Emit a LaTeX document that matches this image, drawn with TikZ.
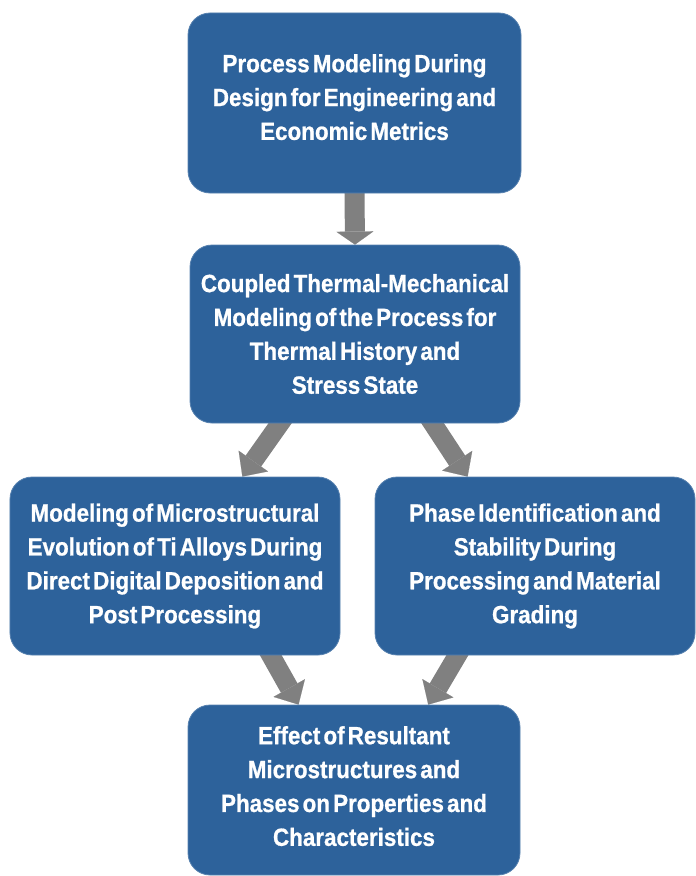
\documentclass[tikz,border=0pt]{standalone}
\usepackage{fontspec}
\newfontfamily\flowfont{Liberation Sans}[FakeStretch=0.9, WordSpace=0.5, FakeBold=0.8]
\usetikzlibrary{arrows.meta,backgrounds}
\definecolor{boxblue}{RGB}{45,98,155}
\definecolor{arrowgray}{RGB}{128,128,128}

\begin{document}
\begin{tikzpicture}[x=1bp, y=1bp,
  stage/.style={rectangle, rounded corners=22bp, fill=boxblue, draw=boxblue!80!white, line width=0.8bp,
    text=white, align=center, inner sep=0pt, font=\flowfont\bfseries\fontsize{25}{34}\selectfont},
  flow/.style={-{Triangle[width=37bp, length=13bp, line width=0.1bp]}, draw=arrowgray, line width=20bp, shorten <=-8bp},
  slant/.style={flow, -{Triangle[width=36bp, length=19bp, line width=0.1bp]}, line width=19bp}]
  \useasboundingbox (0,0) rectangle (696,-876);
  \clip (0,0) rectangle (696,-876);
  % the five stages
  \node[stage, minimum width=333bp, minimum height=180bp] (design) at (354.5,-103)
    {Process Modeling During\\Design for Engineering and\\Economic Metrics\rule[-12bp]{0pt}{0pt}};
  \node[stage, minimum width=330bp, minimum height=178bp] (coupled) at (355,-334)
    {Coupled Thermal-Mechanical\\Modeling of the Process for\\Thermal History and\\Stress State};
  \node[stage, minimum width=330bp, minimum height=178bp] (micro) at (175,-566)
    {Modeling of Microstructural\\Evolution of Ti Alloys During\\Direct Digital Deposition and\\Post Processing};
  \node[stage, minimum width=320bp, minimum height=178bp] (phase) at (535,-566)
    {Phase Identification and\\Stability During\\Processing and Material\\Grading};
  \node[stage, minimum width=332bp, minimum height=170bp] (effect) at (354,-790)
    {Effect of Resultant\\Microstructures and\\Phases on Properties and\\Characteristics\rule[-8bp]{0pt}{0pt}};
  % gray block arrows behind the boxes
  \begin{scope}[on background layer]
    \draw[flow] (design.south) -- (coupled.north);
    \draw[slant] (coupled.230) -- (micro.53);
    \draw[slant] (coupled.311) -- (phase.127);
    \draw[slant] (micro.317) -- (effect.123);
    \draw[slant] (phase.229) -- (effect.49);
  \end{scope}
\end{tikzpicture}
\end{document}
